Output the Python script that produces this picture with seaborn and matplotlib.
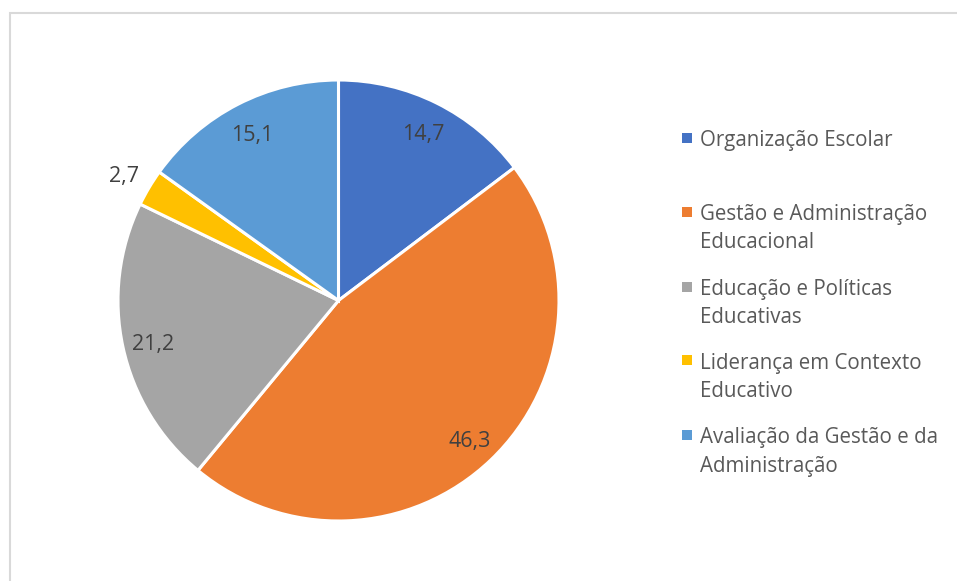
import matplotlib
matplotlib.use("Agg")
import matplotlib.pyplot as plt
from matplotlib.patches import Rectangle
import numpy as np
import seaborn as sns

# Share of studies by thematic area (%)
categories = [
    "Organização Escolar",
    "Gestão e Administração\nEducacional",
    "Educação e Políticas\nEducativas",
    "Liderança em Contexto\nEducativo",
    "Avaliação da Gestão e da\nAdministração",
]
shares = [14.7, 46.3, 21.2, 2.7, 15.1]
value_labels = ["14,7", "46,3", "21,2", "2,7", "15,1"]

sns.set_theme(style="white")
plt.rcParams["font.family"] = ["Open Sans", "DejaVu Sans"]

palette = sns.color_palette(["#4472C4", "#ED7D31", "#A5A5A5", "#FFC000", "#5B9BD5"])

W, H = 957, 581
fig = plt.figure(figsize=(W / 100, H / 100), dpi=100)
ax = fig.add_axes([0, 0, 1, 1])

# Chart-area frame (runs off the right and bottom edges)
ax.add_patch(Rectangle((9.5, -10), W + 20, H - 12.5 + 10, fill=False,
                       edgecolor="#D9D9D9", linewidth=1.5))

cx, cy, R = 338.5, H - 300.5, 220.5
wedges, _ = ax.pie(
    shares, colors=palette, startangle=90, counterclock=False,
    center=(cx, cy), radius=R, frame=True,
    wedgeprops=dict(edgecolor="white", linewidth=2.2),
)
ax.set_xlim(0, W)
ax.set_ylim(0, H)
ax.set_aspect("equal")
ax.axis("off")

# Data labels: inside the slice, or just outside for the thin one
label_dist = [0.86, 0.86, 0.86, 1.13, 0.86]
for w, txt, d in zip(wedges, value_labels, label_dist):
    ang = np.deg2rad((w.theta1 + w.theta2) / 2)
    ax.text(cx + d * R * np.cos(ang), cy + d * R * np.sin(ang) - 1, txt,
            ha="center", va="center_baseline", fontsize=15.5, color="#404040")

# Legend entries on the right (one text per line, fixed baseline step)
first_baseline = [146, 220, 295, 368.5, 443.5]
line_step = 28.4
for name, col, yb in zip(categories, palette, first_baseline):
    ax.scatter([687], [H - (yb - 8.5)], marker="s", s=46, color=col,
               linewidths=0)
    for i, line in enumerate(name.split("\n")):
        ax.text(700, H - (yb + i * line_step), line, ha="left",
                va="baseline", fontsize=14.8, color="#595959")

fig.savefig("out.png", dpi=100, facecolor="white")
